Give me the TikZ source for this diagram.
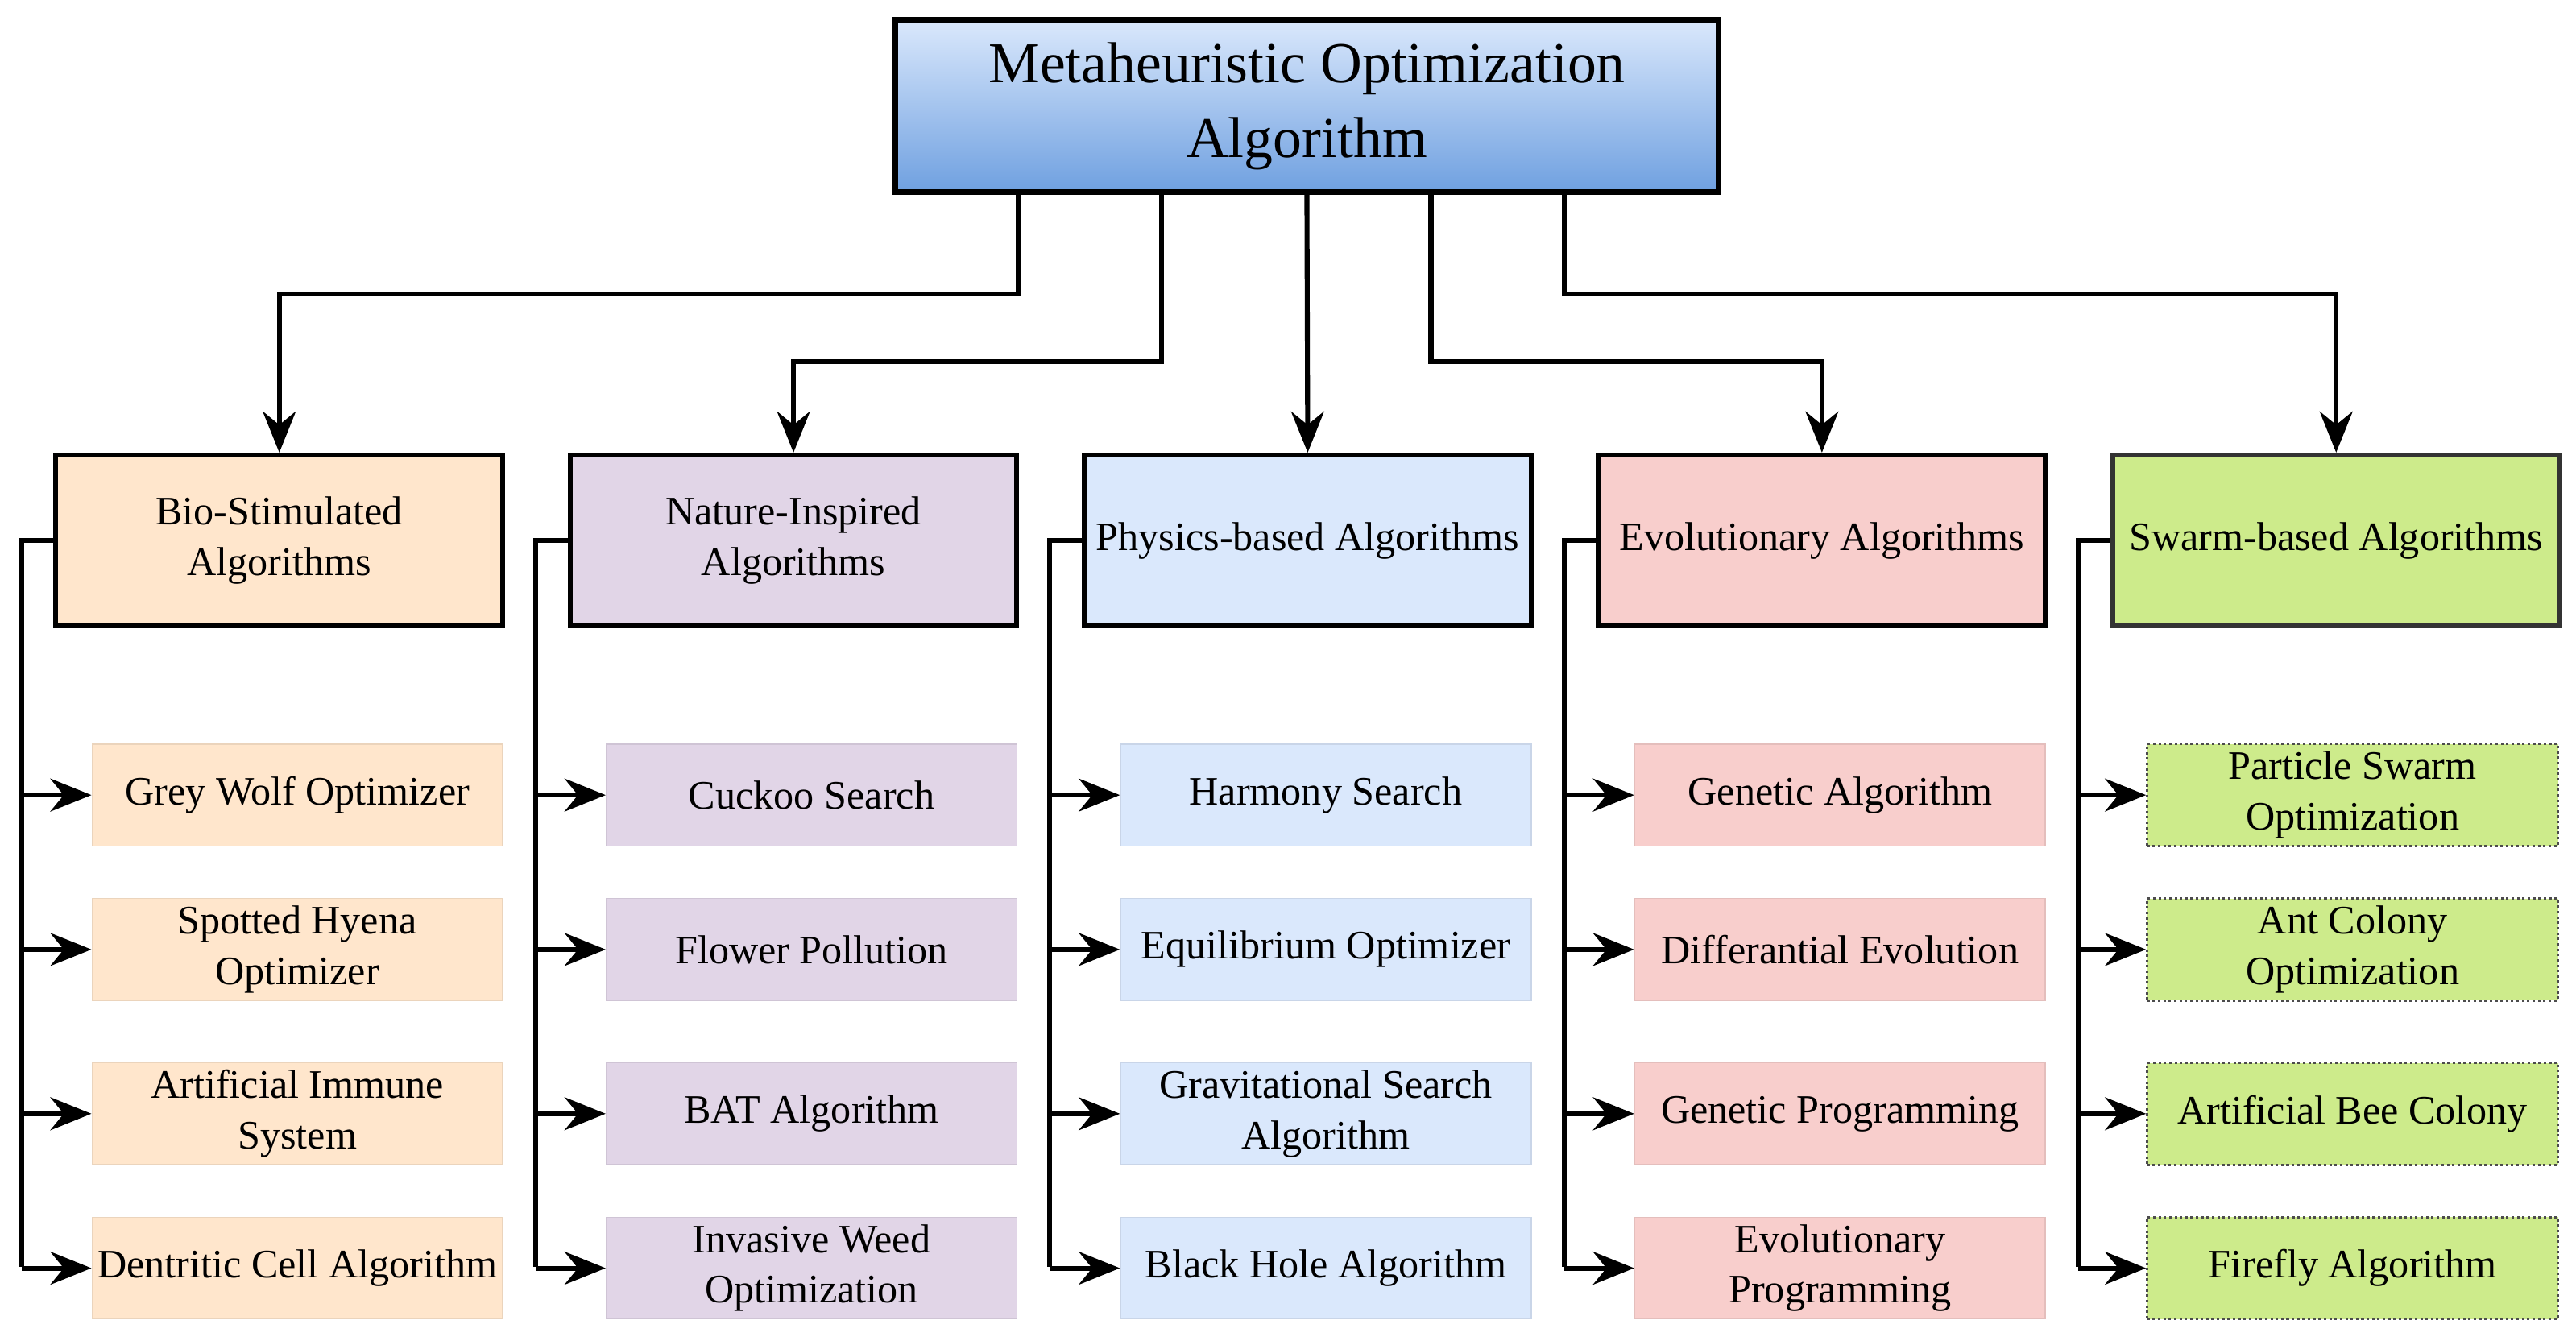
\documentclass[tikz,border=0pt]{standalone}
\usepackage{fontspec}
\setmainfont{Liberation Serif}
\usetikzlibrary{arrows.meta,calc}
\definecolor{cO}{HTML}{FFE6CC}\definecolor{cP}{HTML}{E1D5E7}\definecolor{cB}{HTML}{DAE8FC}
\definecolor{cR}{HTML}{F8CECC}\definecolor{cG}{HTML}{CDEB8B}\definecolor{gB}{HTML}{6FA0E0}
\begin{document}
\begin{tikzpicture}[x=0.02cm,y=-0.02cm,
 cat/.style={draw=black,line width=0.06cm,minimum width=5.44cm,minimum height=2.08cm,align=center,font=\fontsize{14}{17.5}\selectfont,inner sep=1pt},
 leaf/.style={minimum width=5cm,minimum height=1.24cm,align=center,font=\fontsize{14}{17.5}\selectfont,inner sep=1pt},
 arr/.style={line width=0.06cm,-{Stealth[length=0.5cm,width=0.4cm]}},
 ln/.style={line width=0.06cm}]
\useasboundingbox (0,0) rectangle (1568,816);
\node[draw=black,line width=0.07cm,minimum width=10.02cm,minimum height=2.1cm,top color=cB,bottom color=gB,align=center,font=\fontsize{20}{26}\selectfont] (top) at (795.5,64.5) {Metaheuristic Optimization\\Algorithm};
\foreach \n/\x/\c/\t in {a/170/cO/{Bio-Stimulated\\Algorithms},b/483/cP/{Nature-Inspired\\Algorithms},c/796/cB/{Physics-based Algorithms},d/1109/cR/{Evolutionary Algorithms},e/1422/cG/{Swarm-based Algorithms}}{
 \node[cat,fill=\c] (\n) at (\x,329) {\t};
}
\node[cat,fill=cG,draw=black!80] at (1422,329) {Swarm-based Algorithms};
\def\ys{{484,578,678,772}}
\foreach \n/\x/\c/\l in {a/170/cO/{Grey Wolf Optimizer,Spotted Hyena\\Optimizer,Artificial Immune\\System,Dentritic Cell Algorithm},
 b/483/cP/{Cuckoo Search,Flower Pollution,BAT Algorithm,Invasive Weed\\Optimization},
 c/796/cB/{Harmony Search,Equilibrium Optimizer,Gravitational Search\\Algorithm,Black Hole Algorithm},
 d/1109/cR/{Genetic Algorithm,Differantial Evolution,Genetic Programming,Evolutionary\\Programming}}{
 \coordinate (\n t) at (\x-157,329);
 \draw[ln] (\n.west) -- (\n t) -- (\x-157,771);
 \foreach \t [count=\i] in \l {
   \pgfmathsetmacro\yy{\ys[\i-1]}
   \node[leaf,fill=\c,draw=\c!92!black] (\n\i) at (\x+11,\yy) {\t};
   \coordinate (\n s\i) at (\x-157,\yy);
   \draw[arr] (\n s\i) -- (\n\i.west);
 }
}
\coordinate (et) at (1265,329);
\draw[ln] (e.west) -- (et) -- (1265,771);
\foreach \t [count=\i] in {Particle Swarm\\Optimization,Ant Colony\\Optimization,Artificial Bee Colony,Firefly Algorithm}{
 \pgfmathsetmacro\yy{\ys[\i-1]}
 \node[leaf,fill=cG,draw=black!70,densely dotted,line width=0.03cm] (e\i) at (1432,\yy) {\t};
 \coordinate (es\i) at (1265,\yy);
 \draw[arr] (es\i) -- (e\i.west);
}
\coordinate (p1) at (620,117);\coordinate (p2) at (707,117);\coordinate (p4) at (871,117);\coordinate (p5) at (952,117);
\draw[arr] (p1) -- (620,179) -- (170,179) -- (a.north);
\draw[arr] (p2) -- (707,220) -- (483,220) -- (b.north);
\draw[arr] (top.south) -- (c.north);
\draw[arr] (p4) -- (871,220) -- (1109,220) -- (d.north);
\draw[arr] (p5) -- (952,179) -- (1422,179) -- (e.north);
\end{tikzpicture}
\end{document}
